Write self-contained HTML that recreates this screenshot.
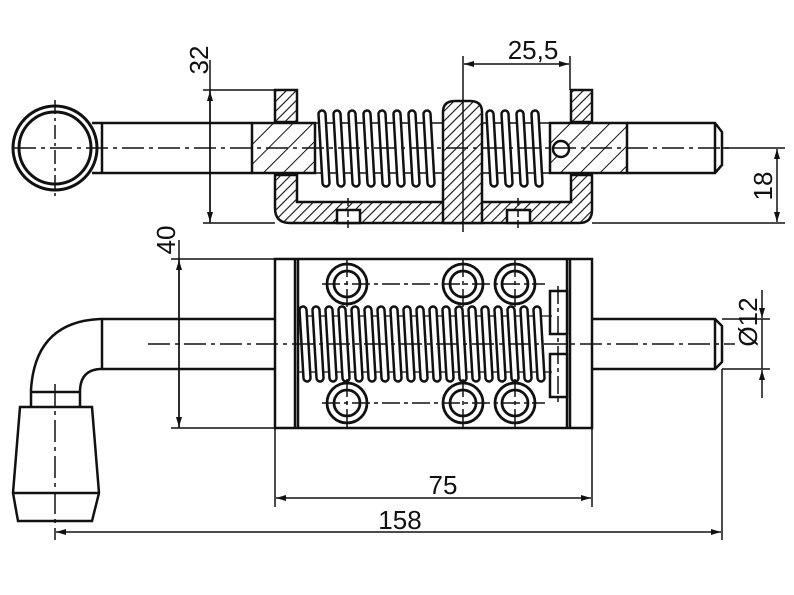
<!DOCTYPE html>
<html><head><meta charset="utf-8"><style>
html,body{margin:0;padding:0;background:#fff;}
svg{display:block;}
text{font-family:"Liberation Sans",sans-serif;font-size:26px;fill:#111;}
</style></head><body>
<svg width="794" height="595" viewBox="0 0 794 595" xmlns="http://www.w3.org/2000/svg">
<defs>
<pattern id="h" width="7" height="7" patternUnits="userSpaceOnUse" patternTransform="rotate(45)">
<rect width="7" height="7" fill="#fff"/><line x1="0" y1="0" x2="0" y2="7" stroke="#111" stroke-width="2.2"/></pattern>
<pattern id="h2" width="14" height="14" patternUnits="userSpaceOnUse" patternTransform="rotate(45)">
<rect width="14" height="14" fill="#fff"/><line x1="0" y1="0" x2="0" y2="14" stroke="#111" stroke-width="2"/></pattern>
<marker id="a" viewBox="0 0 10 6" refX="10" refY="3" markerWidth="11" markerHeight="6" orient="auto-start-reverse" markerUnits="userSpaceOnUse"><path d="M0,0 L10,3 L0,6 z" fill="#111"/></marker>
</defs>
<g stroke="#111" fill="none" stroke-width="2.5">
<!-- ===== TOP VIEW ===== -->
<circle cx="55" cy="148" r="42" stroke-width="3"/>
<circle cx="55" cy="148" r="36" stroke-width="3"/>
<line x1="92" y1="123" x2="252" y2="123"/><line x1="92" y1="173" x2="252" y2="173"/>
<line x1="102" y1="123" x2="102" y2="173"/>
<path d="M275,90 H297 V122 H275 Z" fill="url(#h)"/>
<path d="M571,90 H592 V122 H571 Z" fill="url(#h)"/>
<path d="M275,175 H297 V202 H571 V175 H592 V210 Q592,223 579,223 H290 Q275,223 275,208 Z" fill="url(#h)"/>
<rect x="337" y="210" width="23" height="13" fill="#fff"/>
<rect x="507" y="210" width="23" height="13" fill="#fff"/>
<rect x="252" y="123" width="63" height="50" fill="url(#h2)"/>
<rect x="550" y="123" width="77" height="50" fill="url(#h2)"/>
<path d="M627,123 H715 L722,132 V165 L715,173 H627"/>
<line x1="715" y1="123" x2="715" y2="173"/>
<circle cx="561" cy="149" r="8" fill="#fff"/>
<line x1="315" y1="123" x2="443" y2="123" stroke-width="1.5"/>
<line x1="315" y1="173" x2="443" y2="173" stroke-width="1.5"/>
<line x1="482" y1="123" x2="550" y2="123" stroke-width="1.5"/>
<line x1="482" y1="173" x2="550" y2="173" stroke-width="1.5"/>
<g stroke-linecap="round">
<path stroke-width="9.5" d="M322,114 L326,183 M337,114 L341,183 M352,114 L356,183 M367,114 L371,183 M382,114 L386,183 M397,114 L401,183 M412,114 L416,183 M427,114 L431,183 M490,114 L494,183 M505,114 L509,183 M520,114 L524,183 M535,114 L539,183"/>
<path stroke-width="4.5" stroke="#fff" d="M322,114 L326,183 M337,114 L341,183 M352,114 L356,183 M367,114 L371,183 M382,114 L386,183 M397,114 L401,183 M412,114 L416,183 M427,114 L431,183 M490,114 L494,183 M505,114 L509,183 M520,114 L524,183 M535,114 L539,183"/>
</g>
<path d="M443,223 V112 Q443,101 455,101 H470 Q482,101 482,112 V223 Z" fill="url(#h)"/>
<line x1="14" y1="148" x2="730" y2="148" stroke-width="1.5" stroke-dasharray="22,5,4,5"/>
<line x1="55" y1="100" x2="55" y2="196" stroke-width="1.5" stroke-dasharray="14,4,3,4"/>
<line x1="348" y1="198" x2="348" y2="230" stroke-width="1.5" stroke-dasharray="8,3"/>
<line x1="518" y1="198" x2="518" y2="230" stroke-width="1.5" stroke-dasharray="8,3"/>
<g stroke-width="1.5">
<line x1="203" y1="90" x2="275" y2="90"/><line x1="203" y1="223" x2="275" y2="223"/>
<line x1="210" y1="60" x2="210" y2="223"/>
<line x1="210" y1="91" x2="210" y2="222" marker-start="url(#a)" marker-end="url(#a)"/>
<line x1="463" y1="56" x2="463" y2="232"/><line x1="570" y1="56" x2="570" y2="90"/>
<line x1="464" y1="64" x2="569" y2="64" marker-start="url(#a)" marker-end="url(#a)"/>
<line x1="722" y1="148" x2="785" y2="148"/><line x1="592" y1="223" x2="785" y2="223"/>
<line x1="777" y1="149" x2="777" y2="222" marker-start="url(#a)" marker-end="url(#a)"/>
</g>
<!-- ===== BOTTOM VIEW ===== -->
<rect x="275" y="259" width="317" height="169"/>
<line x1="295" y1="259" x2="295" y2="428"/><line x1="298" y1="259" x2="298" y2="428"/>
<line x1="567" y1="259" x2="567" y2="428"/><line x1="570" y1="259" x2="570" y2="428"/>
<path d="M275,319 H100 Q35,322 31,390 V407"/>
<path d="M275,369 H100 Q80,370 80,392 V407"/>
<line x1="31" y1="392" x2="80" y2="392"/>
<line x1="102" y1="319" x2="102" y2="369"/>
<path d="M20,407 H92 L99,493 L92,521 H18 L13,493 Z"/>
<line x1="13" y1="493" x2="99" y2="493"/>
<line x1="55" y1="384" x2="55" y2="540" stroke-width="1.5" stroke-dasharray="22,5,4,5"/>
<path d="M592,319 H715 L722,326 V362 L715,369 H592"/>
<line x1="715" y1="319" x2="715" y2="369"/>
<rect x="550" y="291" width="17" height="43" fill="#fff"/>
<rect x="550" y="354" width="17" height="43" fill="#fff"/>
<line x1="298" y1="316" x2="552" y2="316" stroke-width="1.2"/>
<line x1="298" y1="372" x2="552" y2="372" stroke-width="1.2"/>
<g stroke-linecap="round">
<path stroke-width="9.5" d="M303,310 L307,378 M316,310 L320,378 M329,310 L333,378 M342,310 L346,378 M355,310 L359,378 M368,310 L372,378 M381,310 L385,378 M394,310 L398,378 M407,310 L411,378 M420,310 L424,378 M433,310 L437,378 M446,310 L450,378 M459,310 L463,378 M472,310 L476,378 M485,310 L489,378 M498,310 L502,378 M511,310 L515,378 M524,310 L528,378 M537,310 L541,378"/>
<path stroke-width="4.5" stroke="#fff" d="M303,310 L307,378 M316,310 L320,378 M329,310 L333,378 M342,310 L346,378 M355,310 L359,378 M368,310 L372,378 M381,310 L385,378 M394,310 L398,378 M407,310 L411,378 M420,310 L424,378 M433,310 L437,378 M446,310 L450,378 M459,310 L463,378 M472,310 L476,378 M485,310 L489,378 M498,310 L502,378 M511,310 L515,378 M524,310 L528,378 M537,310 L541,378"/>
</g>
<g stroke-width="2.8" fill="#fff">
<circle cx="347" cy="284" r="20"/><circle cx="347" cy="284" r="13"/>
<circle cx="463" cy="284" r="20"/><circle cx="463" cy="284" r="13"/>
<circle cx="515" cy="284" r="20"/><circle cx="515" cy="284" r="13"/>
<circle cx="347" cy="403" r="20"/><circle cx="347" cy="403" r="13"/>
<circle cx="463" cy="403" r="20"/><circle cx="463" cy="403" r="13"/>
<circle cx="515" cy="403" r="20"/><circle cx="515" cy="403" r="13"/>
</g>
<g stroke-width="1.5">
<path d="M322,284 H545 M322,403 H545 M347,259 V308 M463,259 V308 M515,259 V308 M347,379 V428 M463,379 V428 M515,379 V428" stroke-dasharray="18,4,4,4"/>
<line x1="558" y1="286" x2="558" y2="402" stroke-dasharray="18,4,4,4"/>
<line x1="148" y1="344" x2="735" y2="344" stroke-dasharray="22,5,4,5"/>
</g>
<g stroke-width="1.5">
<line x1="171" y1="259" x2="275" y2="259"/><line x1="171" y1="428" x2="275" y2="428"/>
<line x1="179" y1="240" x2="179" y2="428"/>
<line x1="179" y1="260" x2="179" y2="427" marker-start="url(#a)" marker-end="url(#a)"/>
<line x1="275" y1="428" x2="275" y2="507"/><line x1="592" y1="428" x2="592" y2="507"/>
<line x1="276" y1="498" x2="591" y2="498" marker-start="url(#a)" marker-end="url(#a)"/>
<line x1="722" y1="369" x2="722" y2="540"/>
<line x1="56" y1="532" x2="721" y2="532" marker-start="url(#a)" marker-end="url(#a)"/>
<line x1="722" y1="319" x2="770" y2="319"/><line x1="722" y1="369" x2="770" y2="369"/>
<line x1="762" y1="290" x2="762" y2="318" marker-end="url(#a)"/>
<line x1="762" y1="398" x2="762" y2="370" marker-end="url(#a)"/>
<line x1="762" y1="319" x2="762" y2="369"/>
</g>
</g>
<text x="533" y="59" text-anchor="middle">25,5</text>
<text transform="translate(208,60) rotate(-90)" text-anchor="middle">32</text>
<text transform="translate(772,186) rotate(-90)" text-anchor="middle">18</text>
<text transform="translate(175,240) rotate(-90)" text-anchor="middle">40</text>
<text transform="translate(757,322) rotate(-90)" text-anchor="middle">Ø12</text>
<text x="443" y="494" text-anchor="middle">75</text>
<text x="400" y="529" text-anchor="middle">158</text>
</svg>
</body></html>
